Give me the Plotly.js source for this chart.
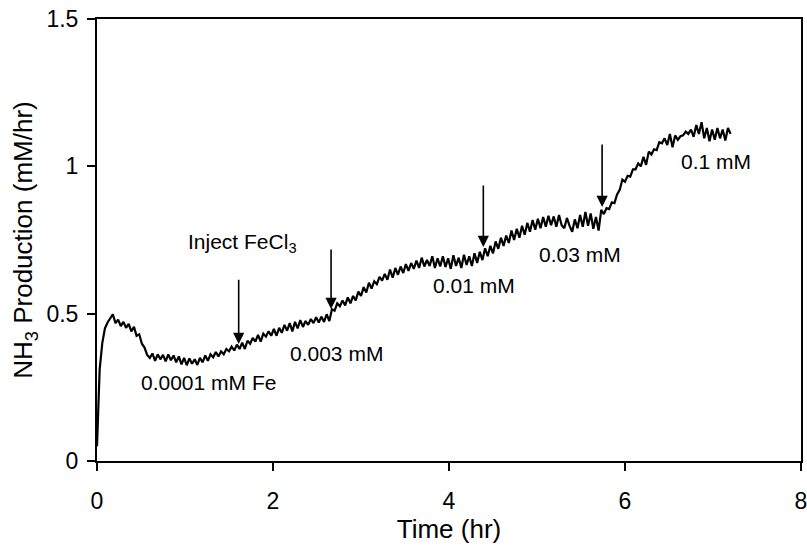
<!DOCTYPE html>
<html>
<head>
<meta charset="utf-8">
<script src="https://cdn.plot.ly/plotly-3.0.1.min.js"></script>
<style>
  html, body { margin: 0; padding: 0; background: #fff; }
  #chart { width: 807px; height: 556px; }
</style>
</head>
<body>
<div id="chart"></div>
<script>
// NH3 production trace, sampled every 0.03 hr starting at t = 0
const timeStart = 0;
const timeStep = 0.03;
const nh3Production = [
  0.05, 0.31, 0.40, 0.45, 0.47, 0.482, 0.498, 0.468, 0.48, 0.458,
  0.472, 0.452, 0.465, 0.44, 0.455, 0.425, 0.43, 0.398, 0.385, 0.36,
  0.35, 0.365, 0.34, 0.362, 0.345, 0.36, 0.338, 0.362, 0.342, 0.358,
  0.335, 0.355, 0.328, 0.35, 0.325, 0.348, 0.33, 0.345, 0.326, 0.35,
  0.335, 0.358, 0.34, 0.362, 0.352, 0.37, 0.355, 0.372, 0.362, 0.38,
  0.372, 0.388, 0.375, 0.395, 0.38, 0.402, 0.38, 0.408, 0.398, 0.418,
  0.405, 0.428, 0.405, 0.432, 0.422, 0.44, 0.425, 0.448, 0.425, 0.452,
  0.435, 0.462, 0.442, 0.468, 0.44, 0.472, 0.45, 0.478, 0.455, 0.475,
  0.462, 0.482, 0.468, 0.488, 0.47, 0.49, 0.472, 0.498, 0.475, 0.515,
  0.51, 0.535, 0.525, 0.545, 0.528, 0.555, 0.535, 0.56, 0.545, 0.575,
  0.56, 0.59, 0.572, 0.605, 0.585, 0.61, 0.60, 0.625, 0.612, 0.635,
  0.615, 0.65, 0.622, 0.655, 0.632, 0.66, 0.638, 0.668, 0.645, 0.672,
  0.652, 0.68, 0.655, 0.69, 0.66, 0.682, 0.662, 0.695, 0.655, 0.688,
  0.66, 0.695, 0.658, 0.688, 0.652, 0.698, 0.662, 0.69, 0.655, 0.70,
  0.665, 0.695, 0.662, 0.705, 0.672, 0.71, 0.682, 0.722, 0.695, 0.73,
  0.705, 0.745, 0.72, 0.758, 0.73, 0.765, 0.74, 0.782, 0.75, 0.788,
  0.758, 0.798, 0.768, 0.808, 0.778, 0.818, 0.785, 0.822, 0.79, 0.828,
  0.795, 0.832, 0.80, 0.83, 0.795, 0.835, 0.80, 0.79, 0.825, 0.798,
  0.778, 0.82, 0.79, 0.835, 0.795, 0.845, 0.798, 0.84, 0.788, 0.828,
  0.782, 0.852, 0.838, 0.858, 0.855, 0.878, 0.875, 0.905, 0.92, 0.955,
  0.948, 0.968, 0.965, 0.99, 0.99, 1.01, 1.00, 1.032, 1.005, 1.05,
  1.04, 1.058, 1.055, 1.082, 1.078, 1.095, 1.072, 1.11, 1.065, 1.105,
  1.09, 1.102, 1.105, 1.118, 1.11, 1.125, 1.10, 1.14, 1.11, 1.15,
  1.095, 1.13, 1.085, 1.125, 1.09, 1.13, 1.095, 1.125, 1.088, 1.13,
  1.11
];

// Injection arrows: time, tail (top) value, tip value
const arrowTime = [1.61, 2.66, 4.39, 5.74];
const arrowTail = [0.62, 0.723, 0.94, 1.079];
const arrowTip  = [0.397, 0.516, 0.726, 0.862];

// Text labels
const labelText = ["Inject FeCl<sub>3</sub>", "0.0001 mM Fe", "0.003 mM", "0.01 mM", "0.03 mM", "0.1 mM"];
const labelTime = [1.65, 1.27, 2.72, 4.28, 5.49, 7.03];
const labelValue = [0.74, 0.265, 0.366, 0.594, 0.702, 1.015];

const xTickVals = [0, 2, 4, 6, 8];
const yTickVals = [0, 0.5, 1, 1.5];
const yTickText = ["0", "0.5", "1", "1.5"];

const font = "Liberation Sans, Arial, sans-serif";

const annotations = [];
for (let i = 0; i < arrowTime.length; i++) {
  annotations.push({
    x: arrowTime[i], y: arrowTip[i],
    ax: arrowTime[i], ay: arrowTail[i],
    xref: 'x', yref: 'y', axref: 'x', ayref: 'y',
    text: '', showarrow: true,
    arrowhead: 2, arrowsize: 1.4, arrowwidth: 1.6, arrowcolor: '#000'
  });
}
for (let i = 0; i < labelText.length; i++) {
  annotations.push({
    x: labelTime[i], y: labelValue[i], xref: 'x', yref: 'y',
    text: labelText[i], showarrow: false,
    font: { family: font, size: 21, color: '#000' }
  });
}

const trace = {
  type: 'scatter', mode: 'lines',
  x0: timeStart, dx: timeStep, y: nh3Production,
  line: { color: '#000', width: 2.2 },
  hoverinfo: 'skip'
};

const layout = {
  width: 807, height: 556,
  margin: { l: 97, r: 6, t: 19, b: 95 },
  paper_bgcolor: '#fff', plot_bgcolor: '#fff',
  showlegend: false,
  font: { family: font, size: 23, color: '#000' },
  xaxis: {
    range: [0, 8], tickvals: xTickVals, ticks: 'outside', ticklen: 8, tickwidth: 2,
    tickcolor: '#000', showline: true, linecolor: '#000', linewidth: 2, mirror: true,
    showgrid: false, zeroline: false, ticklabelstandoff: 10, ticklabeloverflow: 'allow',
    tickfont: { family: font, size: 23, color: '#000' },
    title: { text: 'Time (hr)', font: { family: font, size: 26, color: '#000' }, standoff: 5 }
  },
  yaxis: {
    range: [0, 1.5], tickvals: yTickVals, ticktext: yTickText, ticks: 'outside', ticklen: 8, tickwidth: 2,
    tickcolor: '#000', showline: true, linecolor: '#000', linewidth: 2, mirror: true,
    showgrid: false, zeroline: false, ticklabelstandoff: 4, ticklabeloverflow: 'allow',
    tickfont: { family: font, size: 23, color: '#000' },
    title: { text: 'NH<sub>3</sub> Production (mM/hr)', font: { family: font, size: 26, color: '#000' }, standoff: 6 }
  },
  annotations: annotations
};

Plotly.newPlot('chart', [trace], layout, { displayModeBar: false, staticPlot: true });
</script>
</body>
</html>
